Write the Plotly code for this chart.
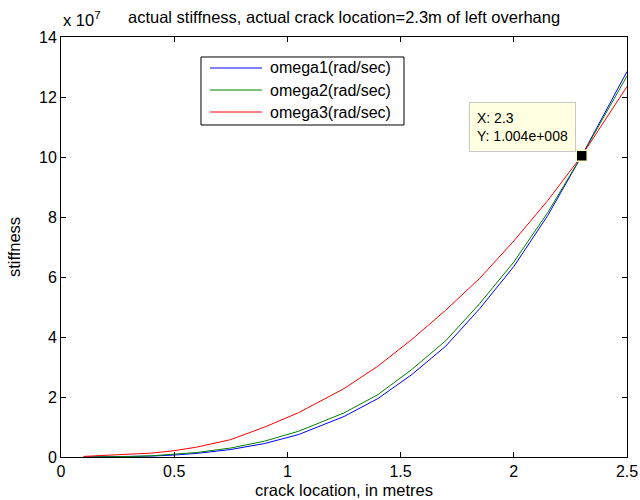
import plotly.graph_objects as go

# crack location (m)
x_loc = [0.1, 0.2, 0.3, 0.4, 0.5, 0.6, 0.75, 0.9, 1.05, 1.25, 1.4, 1.55, 1.7, 1.85, 2.0, 2.15, 2.3, 2.4, 2.5]
# stiffness values in units of 1e7
omega1 = [0.0, 0.003, 0.012, 0.03, 0.065, 0.12, 0.25, 0.45, 0.75, 1.35, 1.95, 2.75, 3.7, 4.95, 6.35, 8.05, 10.04, 11.45, 12.85]
omega2 = [0.0, 0.004, 0.016, 0.04, 0.085, 0.15, 0.3, 0.53, 0.86, 1.47, 2.08, 2.92, 3.88, 5.12, 6.5, 8.15, 10.04, 11.38, 12.7]
omega3 = [0.02, 0.05, 0.08, 0.13, 0.21, 0.33, 0.58, 1.0, 1.48, 2.28, 3.03, 3.92, 4.9, 5.96, 7.2, 8.55, 10.04, 11.2, 12.35]
names = ["omega1(rad/sec)", "omega2(rad/sec)", "omega3(rad/sec)"]
colors = ["#0000ff", "#008000", "#ff0000"]

marker_x = [2.3]
marker_y = [10.04]

x_ticks = [0, 0.5, 1, 1.5, 2, 2.5]
x_tick_text = ["0", "0.5", "1", "1.5", "2", "2.5"]
y_ticks = [0, 2, 4, 6, 8, 10, 12, 14]

FONT = "Liberation Sans, Arial, sans-serif"

fig = go.Figure()
for ys, nm, c in zip([omega1, omega2, omega3], names, colors):
    fig.add_trace(go.Scatter(x=x_loc, y=ys, mode="lines", name=nm,
                             line=dict(color=c, width=1), showlegend=False))

fig.add_trace(go.Scatter(x=marker_x, y=marker_y, mode="markers", showlegend=False,
                         name="data tip",
                         marker=dict(symbol="square", size=11, color="black",
                                     line=dict(color="#ffffcc", width=1.5))))

fig.update_layout(
    width=640, height=500,
    margin=dict(l=61, r=13, t=37, b=43, autoexpand=False),
    paper_bgcolor="white", plot_bgcolor="white",
    font=dict(family=FONT, size=16, color="black"),
    showlegend=False,
    xaxis=dict(range=[0, 2.5], tickvals=x_ticks, ticktext=x_tick_text,
               ticks="inside", ticklen=5, tickcolor="black",
               showline=True, linecolor="black", linewidth=1, mirror="ticks",
               showgrid=False, zeroline=False, automargin=False,
               tickfont=dict(size=16),
               title=dict(text="crack location, in metres", font=dict(size=16.5), standoff=5)),
    yaxis=dict(range=[0, 14], tickvals=y_ticks,
               ticks="inside", ticklen=5, tickcolor="black",
               showline=True, linecolor="black", linewidth=1, mirror="ticks",
               showgrid=False, zeroline=False, automargin=False,
               tickfont=dict(size=16),
               title=dict(text="stiffness", font=dict(size=16.5), standoff=14)),
)

# legend box drawn in paper coordinates (MATLAB-style)
leg_left, leg_right, leg_top, leg_bottom = 0.2473, 0.606, 0.9524, 0.7905
fig.add_shape(type="rect", xref="paper", yref="paper",
              x0=leg_left, x1=leg_right, y0=leg_bottom, y1=leg_top,
              line=dict(color="black", width=1), fillcolor="white", layer="above")
row_y = [0.9262, 0.8738, 0.8214]
for ry, nm, c in zip(row_y, names, colors):
    fig.add_shape(type="line", xref="paper", yref="paper",
                  x0=0.2633, x1=0.3551, y0=ry, y1=ry,
                  line=dict(color=c, width=1), layer="above")
    fig.add_annotation(text=nm, xref="paper", yref="paper", x=0.3657, y=ry,
                       xanchor="left", yanchor="middle", showarrow=False,
                       font=dict(size=16))

fig.add_annotation(text="actual stiffness, actual crack location=2.3m of left overhang",
                   xref="paper", yref="paper", x=0.5, y=1.0, yshift=20,
                   xanchor="center", yanchor="middle", showarrow=False,
                   font=dict(size=16.5))
fig.add_annotation(text="x 10<sup>7</sup>", xref="paper", yref="paper",
                   x=0.0, y=1.0, yshift=18, xanchor="left", yanchor="middle",
                   showarrow=False, font=dict(size=16.5))
fig.add_annotation(text="X: 2.3<br>Y: 1.004e+008", xref="paper", yref="paper",
                   x=0.721, y=0.845, xanchor="left", yanchor="top", align="left",
                   showarrow=False, bgcolor="#ffffe1", bordercolor="#c8c8c8",
                   borderwidth=1, borderpad=7, font=dict(size=14))

fig.write_html("out.html")
